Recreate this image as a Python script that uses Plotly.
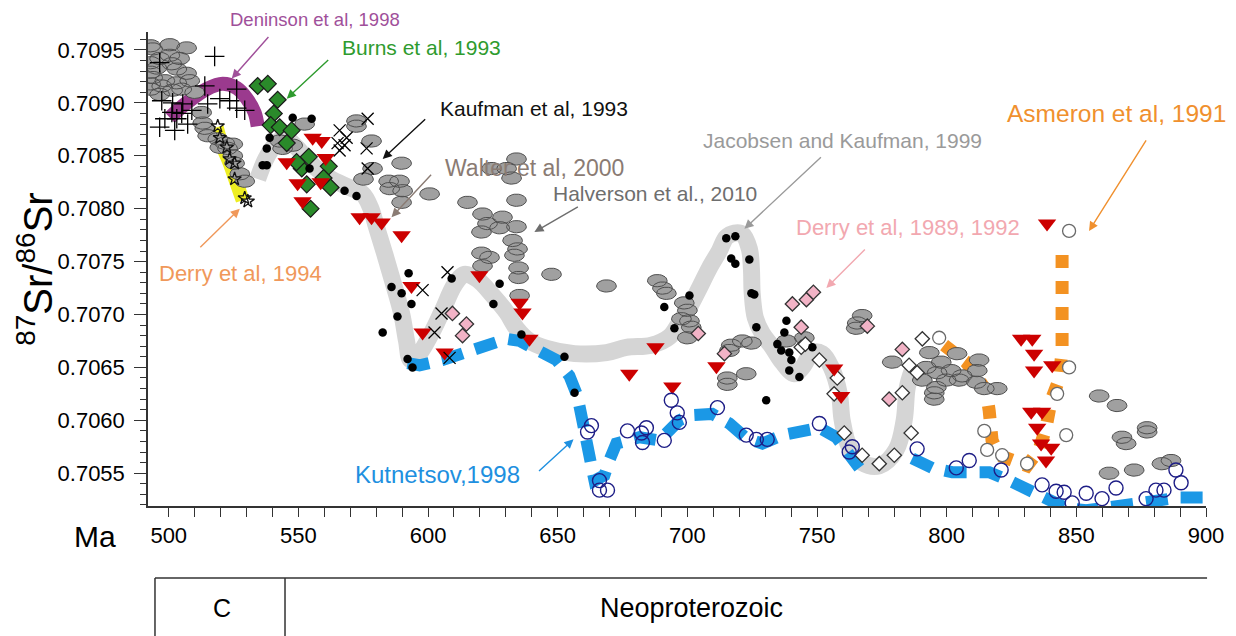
import numpy as np
import plotly.graph_objects as go

# ---------------- data (age in Ma, 87Sr/86Sr) ----------------
# grey ellipses
ell_ma = [493, 493.8, 500.4, 506.9, 500.4, 496.5, 504.2, 493, 495.4, 501.2, 503.1, 506.9, 493, 493.8, 498.5, 503.1,
          508.1, 493, 497.3, 505, 501.5, 493, 510, 496.5,
          512.7, 513.1, 513.9, 515, 518.9, 521.6, 524.7, 519.7, 522.7, 524.7, 525.4, 527.4, 529.3,
          542.8, 543.9, 547.8, 552.4,
          572.4, 572.4, 578.2, 578.6, 575.1, 589.8, 584.8, 589, 585.2, 590.2, 589.8, 600.6,
          634.1, 624.5, 630.3, 632.2, 615.2, 634.1, 621, 628.7, 622.9, 627.6, 634.1, 620.6, 632.6, 634.5, 633.3,
          620.6, 623.7, 621, 634.9, 634.9, 647.6, 668.8, 635.3, 688.4, 690.4, 691.9,
          698.8, 700, 697.7, 700.8, 701.5, 700, 721.2, 724.7, 716.9, 716.2, 715.4, 715.4, 722.7, 738.2, 745.1,
          767.4, 765.5, 765.1,
          779, 793.3, 797.9, 804, 792.1, 796.3, 801.7, 806, 812.5, 811.8, 790.6, 796, 799.8, 804.8, 811.4, 814.5,
          819.5, 795.2, 795.2,
          858.8, 865.7, 877.3, 877.3, 867.6, 869.2, 862.6, 872.3, 883, 886.5]
ell_sr = [0.70954, 0.70951, 0.70955, 0.70952, 0.70945, 0.70942, 0.70942, 0.70938, 0.70933, 0.70937, 0.70932, 0.70928,
          0.70929, 0.70924, 0.70921, 0.70919, 0.70921, 0.70918, 0.70916, 0.70913, 0.70912, 0.70913, 0.7091, 0.70908,
          0.70891, 0.70881, 0.70876, 0.70869, 0.70866, 0.70862, 0.70861, 0.70858, 0.70857, 0.7085, 0.70843, 0.70833,
          0.70826,
          0.70864, 0.70857, 0.7086, 0.7088,
          0.70883, 0.70878, 0.70864, 0.70838, 0.70828, 0.70843, 0.70826, 0.70826, 0.70819, 0.70817, 0.70806, 0.70814,
          0.70847, 0.70838, 0.70838, 0.70829, 0.70806, 0.70808, 0.70795, 0.70792, 0.70786, 0.70782, 0.70783, 0.70778,
          0.7077, 0.70762, 0.70756, 0.70758, 0.70754, 0.70746, 0.70744, 0.70735, 0.70738, 0.70727, 0.70718, 0.70732,
          0.70725, 0.7072,
          0.70711, 0.70704, 0.70696, 0.70694, 0.70688, 0.70678, 0.70675, 0.70673, 0.70671, 0.70666, 0.7064, 0.70634,
          0.70644, 0.70675, 0.70678, 0.70699, 0.70692, 0.70687,
          0.70655, 0.70664, 0.70655, 0.70663, 0.7065, 0.70645, 0.70647, 0.70642, 0.70657, 0.70647, 0.70638, 0.70631,
          0.70638, 0.70638, 0.70636, 0.7063, 0.7063, 0.70626, 0.7062,
          0.70623, 0.70614, 0.70593, 0.70589, 0.70584, 0.70578, 0.7055, 0.70553, 0.70559, 0.70562]

# black plus signs
plus_ma = [517.7, 496.5, 513.9, 526.2, 497.3, 501.5, 505.4, 519.7, 523.5, 526.2, 529.3, 501.2, 505, 508.9, 498.5,
           503.1, 507.3, 496.5, 502.3, 515]
plus_sr = [0.70944, 0.70938, 0.70916, 0.70913, 0.70902, 0.709, 0.70899, 0.70904, 0.70902, 0.70895, 0.70893, 0.70891,
           0.7089, 0.70893, 0.70885, 0.70885, 0.7088, 0.70877, 0.70874, 0.70899]

# black x crosses
xcr_ma = [576.7, 565.9, 568.6, 565.1, 567.8, 565.9, 576.3, 576.7, 607.5, 597.9, 605.2, 602.5, 608.3]
xcr_sr = [0.70885, 0.70874, 0.70867, 0.70862, 0.7086, 0.70855, 0.70857, 0.70838, 0.7074, 0.70723, 0.70701, 0.70683,
          0.70659]

# black dots (Jacobsen and Kaufman)
dot_ma = [547.8, 555.1, 538.9, 537.8, 536.2, 537.8, 554.3, 567.8, 572.4, 592.5, 585.9, 589.8, 593.6, 588.2, 582.5,
          592.1, 594, 609.1, 627.6, 625.2, 636, 652.6, 656.5, 691.1, 695, 700.8, 715, 718.5, 716.9, 718.5, 723.9,
          724.7, 725.8, 726.6, 730.4, 738.2, 737.4, 734.7, 736.2, 739.3, 740.1, 739.3, 743.2, 748.2]
dot_sr = [0.70886, 0.70885, 0.70867, 0.70857, 0.70841, 0.70841, 0.70838, 0.70817, 0.70812, 0.70739, 0.70726, 0.7072,
          0.7071, 0.70698, 0.70683, 0.70658, 0.7065, 0.70734, 0.70729, 0.7071, 0.70681, 0.7066, 0.70626, 0.70707,
          0.70687, 0.70718, 0.70772, 0.70774, 0.70753, 0.70748, 0.70752, 0.7072, 0.70719, 0.70688, 0.70619, 0.70694,
          0.70683, 0.70672, 0.70666, 0.70664, 0.70657, 0.70647, 0.70641, 0.70669]

# red down triangles
tri_ma = [555.5, 559, 560.5, 545.5, 549.7, 558.6, 551.6, 573.6, 578.2, 582.1, 589.8, 593.6, 597.9, 606.4, 619.8,
          636.4, 635.3, 639.1, 677.6, 687.7, 694.2, 711.2, 756.6, 759.3, 828.7, 833, 833.7, 833.7, 840.7, 832.6,
          836.8, 834.9, 836.4, 840.3, 838.3, 838.7]
tri_sr = [0.70867, 0.70864, 0.70848, 0.70844, 0.70824, 0.70825, 0.70807, 0.70792, 0.70792, 0.70787, 0.70775, 0.70727,
          0.70683, 0.70664, 0.70737, 0.70702, 0.70711, 0.70677, 0.70644, 0.70669, 0.70632, 0.70651, 0.70649, 0.70623,
          0.70677, 0.70677, 0.70663, 0.70647, 0.70652, 0.70608, 0.70608, 0.70593, 0.70578, 0.70574, 0.70562, 0.70786]

# green diamonds (Burns et al, 1993)
grn_ma = [534.3, 538.2, 542, 540.5, 539.3, 542.8, 547.4, 545.5, 554, 551.3, 549.3, 553.2, 561.7, 559.7, 562.4, 554.7]
grn_sr = [0.70916, 0.70918, 0.70903, 0.7089, 0.70879, 0.70877, 0.70874, 0.70862, 0.70849, 0.70838, 0.70844, 0.70823,
          0.7084, 0.70829, 0.7082, 0.708]

# pink diamonds (Derry et al, 1989, 1992)
pnk_ma = [609.4, 614.8, 613.3, 704.2, 714.3, 740.5, 745.9, 748.6, 743.9, 769.4, 782.9, 777.8]
pnk_sr = [0.70701, 0.70691, 0.7068, 0.70682, 0.70663, 0.7071, 0.70714, 0.70721, 0.70688, 0.70689, 0.70667, 0.7062]

# open diamonds
odm_ma = [743.9, 745.5, 750.9, 757.8, 756.6, 760.5, 767.4, 774, 779.8, 786.3, 782.9, 785.5, 788.6, 790.6]
odm_sr = [0.70669, 0.70672, 0.70657, 0.7064, 0.70625, 0.70588, 0.70567, 0.70559, 0.70567, 0.70588, 0.70626, 0.70652,
          0.70645, 0.70677]

# open grey circles (Asmeron et al, 1991)
ocg_ma = [797.1, 847.2, 847.2, 842.6, 846.1, 814.5, 815.6, 821.4, 831]
ocg_sr = [0.70678, 0.70779, 0.7065, 0.70625, 0.70586, 0.7059, 0.70572, 0.70567, 0.70559]

# open navy circles (Kutnetsov, 1998)
ocb_ma = [693.8, 696.1, 696.9, 711.6, 663, 661.5, 676.9, 684.2, 682.3, 682.7, 691.1, 722.7, 726.6, 730.8, 750.9,
          763.6, 762.4, 666.1, 666.1, 669.2, 788.6, 803.7, 808.7, 821, 836.8, 842.2, 845.3, 848.4, 853.8, 859.9,
          865.3, 876.9, 880.7, 883.8, 888.4, 890.4]
ocb_sr = [0.70619, 0.70607, 0.70598, 0.70612, 0.70595, 0.70589, 0.7059, 0.70593, 0.70588, 0.70579, 0.70581, 0.70586,
          0.70582, 0.70582, 0.70597, 0.70575, 0.7057, 0.70543, 0.70534, 0.70534, 0.70573, 0.70555, 0.70562, 0.70553,
          0.70539, 0.70533, 0.70532, 0.70522, 0.70531, 0.70526, 0.70536, 0.70526, 0.70534, 0.70534, 0.70553, 0.70541]

# stars (Derry et al, 1994)
star_ma = [518.9, 519.7, 522.4, 523.5, 525.4, 525.4, 529.3, 530.5]
star_sr = [0.70878, 0.70867, 0.70858, 0.70847, 0.70843, 0.70828, 0.7081, 0.70807]

# curves
jk_ma = [534.3, 537.4, 541.2, 544.7, 549.3, 555.5, 562, 569.7, 574.8, 577.8, 580.2, 583.2, 586.3, 589.8, 591.7, 593.3,
         596, 600.6, 605.6, 610.2, 614.1, 619.1, 624.9, 630.3, 634.1, 639.1, 645.7, 656.5, 668.8, 676.5, 686.1, 693.1,
         696.9, 700.8, 704.6, 708.5, 712.3, 715, 718.1, 721.2, 723.9, 724.7, 725, 726.2, 728.9, 732.8, 736.6, 741.2,
         744.3, 748.2, 752, 755.5, 758.6, 759.7, 762.4, 767.4, 774, 780.5, 783.6, 784.8, 786.7]
jk_sr = [0.70828, 0.70847, 0.70861, 0.70867, 0.70858, 0.70841, 0.70829, 0.7082, 0.70814, 0.70801, 0.70782, 0.70758,
         0.70732, 0.70701, 0.70675, 0.70657, 0.70661, 0.70679, 0.70704, 0.70728, 0.70738, 0.70733, 0.70718, 0.70702,
         0.70687, 0.70675, 0.70668, 0.70663, 0.70664, 0.70669, 0.70671, 0.70679, 0.70692, 0.70707, 0.70725, 0.70744,
         0.7076, 0.70773, 0.70777, 0.70776, 0.70762, 0.70743, 0.7072, 0.70697, 0.70682, 0.70669, 0.70655, 0.70644,
         0.7065, 0.70664, 0.70663, 0.7065, 0.70625, 0.706, 0.70575, 0.7056, 0.70557, 0.70572, 0.706, 0.70631, 0.70647]

den_ma = [500.4, 506.9, 514.6, 520.8, 526.2, 530.1, 533.1, 534.3]
den_sr = [0.70886, 0.709, 0.70913, 0.70918, 0.70914, 0.70904, 0.70891, 0.70878]

yel_ma = [518.5, 520.4, 523.5, 526.2, 528.5]
yel_sr = [0.70877, 0.70861, 0.70843, 0.70824, 0.70808]

kut_ma = [592.1, 596.7, 605.6, 614.8, 623.7, 630.3, 635.3, 641.8, 649.5, 654.5, 657.6, 659.5, 661.5, 663, 664.2, 668,
          669.9, 672.6, 681.5, 689.2, 696.9, 701.9, 709.6, 716.2, 722.7, 728.9, 736.6, 743.2, 750.9, 757.4, 762.4,
          766.3, None, 786.7, 794.4, 802.1, 816.4, 824.1, 831.8, 838.3, 846.1, 853.8, 862.6, 875.3, 889.6, 899.6]
kut_sr = [0.70654, 0.70652, 0.70657, 0.70664, 0.70672, 0.70677, 0.70675, 0.70666, 0.70657, 0.70642, 0.70623, 0.706,
          0.70581, 0.70557, 0.70543, 0.70548, 0.70562, 0.70578, 0.70584, 0.70581, 0.706, 0.70605, 0.70606, 0.70597,
          0.70583, 0.70578, 0.70586, 0.7059, 0.70593, 0.70584, 0.70567, 0.70555, None, 0.70564, 0.70555, 0.70551,
          0.70551, 0.70543, 0.70534, 0.70526, 0.70517, 0.70515, 0.70519, 0.70522, 0.70527, 0.70527]

asm_ma = [799, 803.7, 807.5, 811.4, 815.2, 816.4, 817.5, 820.2, 826, 831, 835.6, 838.3, 840.3, 843.4, 844.5, 844.5,
          844.5]
asm_sr = [0.70671, 0.70663, 0.70655, 0.70642, 0.70628, 0.70609, 0.70581, 0.70567, 0.7056, 0.70557, 0.70572, 0.70593,
          0.70619, 0.70639, 0.70666, 0.70713, 0.70765]

# labels (first one sits above the plotting area -> paper y)
lab_text = ["Deninson et al, 1998", "Burns et al, 1993", "Kaufman et al, 1993", "Walter et al, 2000",
            "Halverson et al., 2010", "Jacobsen and Kaufman, 1999", "Derry et al, 1989, 1992",
            "Asmeron et al, 1991", "Derry et al, 1994", "Kutnetsov,1998"]
lab_ma = [522.7, 565.9, 603.7, 605.6, 647.6, 705.4, 741.2, 822.5, 495.4, 570.9]
lab_y = [1.027, 0.70952, 0.70895, 0.70838, 0.70814, 0.70864, 0.70782, 0.7089, 0.70739, 0.70549]
lab_yref = ["paper", "y", "y", "y", "y", "y", "y", "y", "y", "y"]
lab_size = [18.5, 21, 21, 23, 21, 21, 22, 24.5, 22, 24]
lab_color = ["#a0509a", "#2e9b2e", "#111111", "#8a7b73", "#6e6e6e", "#9a9a9a", "#f2a8b0", "#f0902e", "#f0985a",
             "#1e90e0"]
arr_ma = [524.3, 545.5, 582.5, 585.9, 641, 722, 753.6, 854.9, 527.4, 656.1]
arr_sr = [0.70923, 0.70904, 0.70847, 0.70792, 0.70778, 0.70781, 0.70725, 0.70779, 0.708, 0.70582]
arr_dx = [38, 43, 44, 41, 45, 78, 40, 58, -41, -36]
arr_dy = [-43, -40, -41, -44, -26, -73, -40, -92, 40, 33]

FONT = "Arial, Liberation Sans, sans-serif"
ELL_RX, ELL_RY = 3.8, 0.000058

fig = go.Figure()

# curves (background)
fig.add_trace(go.Scatter(x=jk_ma, y=jk_sr, mode="lines", line=dict(color="#d5d5d5", width=17, shape="spline"),
                         hoverinfo="skip"))
fig.add_trace(go.Scatter(x=yel_ma, y=yel_sr, mode="lines", line=dict(color="#eeee22", width=14, shape="spline"),
                         hoverinfo="skip"))
fig.add_trace(go.Scatter(x=den_ma, y=den_sr, mode="lines", line=dict(color="#9b3a8e", width=14, shape="spline"),
                         hoverinfo="skip"))
fig.add_trace(go.Scatter(x=kut_ma, y=kut_sr, mode="lines", connectgaps=False,
                         line=dict(color="#1b98e6", width=12, dash="22px,13px"), hoverinfo="skip"))
fig.add_trace(go.Scatter(x=asm_ma, y=asm_sr, mode="lines",
                         line=dict(color="#f39222", width=13, dash="dot"), hoverinfo="skip"))

# grey ellipses
t = np.linspace(0, 2 * np.pi, 29)
ex, ey = [], []
for cx, cy in zip(ell_ma, ell_sr):
    ex += list(cx + ELL_RX * np.cos(t)) + [None]
    ey += list(cy + ELL_RY * np.sin(t)) + [None]
fig.add_trace(go.Scatter(x=ex, y=ey, mode="lines", fill="toself", fillcolor="#a0a0a0",
                         line=dict(color="#4f4f4f", width=1), hoverinfo="skip"))

mk = dict(mode="markers", hoverinfo="skip")
fig.add_trace(go.Scatter(x=ocg_ma, y=ocg_sr, marker=dict(symbol="circle", size=13, color="white",
                                                          line=dict(color="#6a6a6a", width=1.3)), **mk))
fig.add_trace(go.Scatter(x=odm_ma, y=odm_sr, marker=dict(symbol="diamond", size=11, color="white",
                                                          line=dict(color="#333333", width=1.3)), **mk))
fig.add_trace(go.Scatter(x=pnk_ma, y=pnk_sr, marker=dict(symbol="diamond", size=11, color="#f2b3c6",
                                                          line=dict(color="#333333", width=1.3)), **mk))
fig.add_trace(go.Scatter(x=grn_ma, y=grn_sr, marker=dict(symbol="diamond", size=13, color="#2a8a2a",
                                                          line=dict(color="#1a1a1a", width=1.2)), **mk))
fig.add_trace(go.Scatter(x=tri_ma, y=tri_sr, marker=dict(symbol="triangle-down", size=16, color="#cc0000",
                                                          line=dict(width=0)), **mk))
fig.add_trace(go.Scatter(x=dot_ma, y=dot_sr, marker=dict(symbol="circle", size=8.5, color="#000000"), **mk))
fig.add_trace(go.Scatter(x=star_ma, y=star_sr, marker=dict(symbol="star-open", size=10, color="#111111",
                                                            line=dict(width=1.3)), **mk))
fig.add_trace(go.Scatter(x=plus_ma, y=plus_sr, marker=dict(symbol="cross-thin", size=14,
                                                            line=dict(color="#000000", width=1.3)), **mk))
fig.add_trace(go.Scatter(x=xcr_ma, y=xcr_sr, marker=dict(symbol="x-thin", size=12,
                                                          line=dict(color="#000000", width=1.3)), **mk))
fig.add_trace(go.Scatter(x=ocb_ma, y=ocb_sr, marker=dict(symbol="circle-open", size=14, color="#1d1d86",
                                                          line=dict(width=1.4)), **mk))

annotations = []
for txt, x, y, yr, s, c in zip(lab_text, lab_ma, lab_y, lab_yref, lab_size, lab_color):
    annotations.append(dict(x=x, y=y, xref="x", yref=yr, text=txt, showarrow=False, xanchor="left",
                            yanchor="middle", font=dict(family=FONT, size=s, color=c)))
for x, y, dx, dy, c in zip(arr_ma, arr_sr, arr_dx, arr_dy, lab_color):
    annotations.append(dict(x=x, y=y, xref="x", yref="y", ax=dx, ay=dy, text="", showarrow=True,
                            arrowhead=2, arrowsize=1.3, arrowwidth=1.4, arrowcolor=c, standoff=0))
# axis title and "Ma"
annotations.append(dict(x=-0.107, y=0.50, xref="paper", yref="paper", text="<sup>87</sup>Sr/<sup>86</sup>Sr",
                        textangle=-90, showarrow=False, xanchor="center", yanchor="middle",
                        font=dict(family=FONT, size=40, color="#000")))
annotations.append(dict(x=-0.05, y=-0.065, xref="paper", yref="paper", text="Ma", showarrow=False,
                        xanchor="center", yanchor="middle", font=dict(family=FONT, size=30, color="#000")))
# time scale box
annotations.append(dict(x=0.070, y=-0.215, xref="paper", yref="paper", text="C", showarrow=False,
                        xanchor="center", yanchor="middle", font=dict(family=FONT, size=25, color="#000")))
annotations.append(dict(x=0.514, y=-0.215, xref="paper", yref="paper", text="Neoproterozoic", showarrow=False,
                        xanchor="center", yanchor="middle", font=dict(family=FONT, size=27, color="#000")))

shapes = [
    dict(type="line", xref="paper", yref="paper", x0=0.0066, x1=1.001, y0=-0.152, y1=-0.152,
         line=dict(color="#333", width=1.5)),
    dict(type="line", xref="paper", yref="paper", x0=0.0066, x1=0.0066, y0=-0.152, y1=-0.28,
         line=dict(color="#333", width=1.5)),
    dict(type="line", xref="paper", yref="paper", x0=0.1295, x1=0.1295, y0=-0.152, y1=-0.28,
         line=dict(color="#333", width=1.5)),
]

# page body has an 8px margin -> figure is 8px smaller on each side
fig.update_layout(
    width=1228, height=628, margin=dict(l=140, r=30, t=24, b=130),
    paper_bgcolor="white", plot_bgcolor="white", showlegend=False,
    annotations=annotations, shapes=shapes,
    font=dict(family=FONT, color="#000"),
)
fig.update_xaxes(range=[492, 900], showgrid=False, zeroline=False, showline=True, linecolor="#333",
                 linewidth=1.5, ticks="outside", ticklen=9, tickwidth=1.3, tickcolor="#333",
                 tick0=500, dtick=50, tickfont=dict(family=FONT, size=22, color="#000"),
                 minor=dict(dtick=10, ticks="outside", ticklen=9, tickwidth=1.2, tickcolor="#333"))
fig.update_yaxes(range=[0.70519, 0.70967], showgrid=False, zeroline=False, showline=True, linecolor="#333",
                 linewidth=1.5, ticks="outside", ticklen=12, tickwidth=1.3, tickcolor="#333",
                 tick0=0.7055, dtick=0.0005, tickformat=".4f", ticklabelstandoff=5,
                 tickfont=dict(family=FONT, size=22, color="#000"),
                 minor=dict(dtick=0.0001, ticks="outside", ticklen=6, tickwidth=1.2, tickcolor="#333"))

fig.write_html("out.html")
